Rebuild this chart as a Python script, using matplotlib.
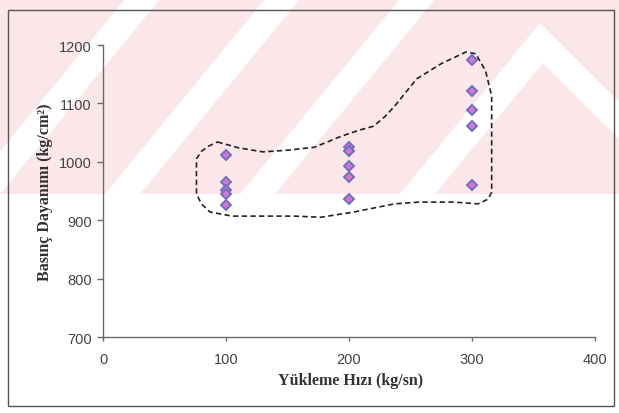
import matplotlib.pyplot as plt
from matplotlib.patches import Polygon, Rectangle

# loading rate groups and measured compressive strengths
rate_100 = [1012, 965, 952, 945, 926]
rate_200 = [1025, 1018, 992, 974, 936]
rate_300 = [1174, 1121, 1088, 1061, 960]
rates = [100, 200, 300]
strengths = [rate_100, rate_200, rate_300]

# hand drawn envelope around the points (data units)
hull_x = [93, 110, 130, 151, 172, 194, 208, 220, 229, 237, 255, 275, 295, 303,
          311, 316, 316, 316, 313, 305, 285, 257, 237, 204, 177, 156, 127, 105,
          87, 80, 76, 76, 80, 86, 93]
hull_y = [1034, 1024, 1017, 1020, 1025, 1044, 1054, 1061, 1077, 1095, 1142, 1168,
          1188, 1185, 1156, 1113, 1039, 948, 936, 928, 931, 931, 928, 914, 905,
          907, 907, 907, 914, 928, 945, 1005, 1018, 1027, 1034]

x_ticks = [0, 100, 200, 300, 400]
y_ticks = [700, 800, 900, 1000, 1100, 1200]

W, H = 619, 414
PINK = '#fbe6ea'
AXIS = '#6a6a6a'


def px(pts):
    return [(x / W, 1 - y / H) for x, y in pts]


def stripe(top_x, w=35, slope=0.82, y1=195):
    return [(top_x, 0), (top_x + w, 0), (top_x + w - slope * y1, y1), (top_x - slope * y1, y1)]


fig = plt.figure(figsize=(W / 100, H / 100), dpi=100)

# faded watermark band behind the chart
fig.patches.append(Polygon(px([(0, 0), (W, 0), (W, 195), (0, 195)]), closed=True,
                           transform=fig.transFigure, fc=PINK, ec='none', zorder=-2))
for tx in [125, 265, 400]:
    fig.patches.append(Polygon(px(stripe(tx)), closed=True, transform=fig.transFigure,
                               fc='white', ec='none', zorder=-1))
chevron = [(400, 195), (540, 24), (619, 103), (619, 140), (543, 64), (435, 195)]
fig.patches.append(Polygon(px(chevron), closed=True, transform=fig.transFigure,
                           fc='white', ec='none', zorder=-1))

# chart frame
fig.patches.append(Rectangle((8 / W, 1 - 407 / H), 606 / W, 396 / H,
                             transform=fig.transFigure, fill=False, ec='#555555',
                             lw=1.0, zorder=1))

ax = fig.add_axes([103 / W, 1 - 338 / H, 492 / W, 292 / H])
ax.set_facecolor('none')

ax.plot(hull_x, hull_y, color='#222222', lw=1.2, dashes=(3.2, 2), zorder=2)
for r, vals in zip(rates, strengths):
    ax.plot([r] * len(vals), vals, linestyle='none', marker='D', ms=5.5,
            mfc='#d477d4', mec='#6f6fc0', mew=1.4, zorder=3)

ax.set_xlim(0, 400)
ax.set_ylim(700, 1200)
ax.set_xticks(x_ticks)
ax.set_yticks(y_ticks)

for s in ['top', 'right']:
    ax.spines[s].set_visible(False)
for s in ['left', 'bottom']:
    ax.spines[s].set_color(AXIS)
    ax.spines[s].set_linewidth(1.0)

tick_font = {'family': 'Liberation Sans', 'size': 10.5}
ax.set_xticklabels([str(t) for t in x_ticks], fontdict=tick_font, color='#444444')
ax.set_yticklabels([str(t) for t in y_ticks], fontdict=tick_font, color='#444444')
ax.tick_params(axis='x', direction='out', length=3, width=1, color=AXIS, pad=8)
ax.tick_params(axis='y', direction='out', length=4, width=1, color=AXIS, pad=4)

label_font = {'family': 'Liberation Serif', 'weight': 'bold', 'size': 11.5, 'color': '#333333'}
fig.text(351 / W, 1 - 381 / H, 'Yükleme Hızı (kg/sn)', fontdict=label_font,
         ha='center', va='center')
fig.text(45 / W, 1 - 192 / H, 'Basınç Dayanımı (kg/cm²)', fontdict=label_font,
         ha='center', va='center', rotation=90)

plt.savefig('out.png', dpi=100)
